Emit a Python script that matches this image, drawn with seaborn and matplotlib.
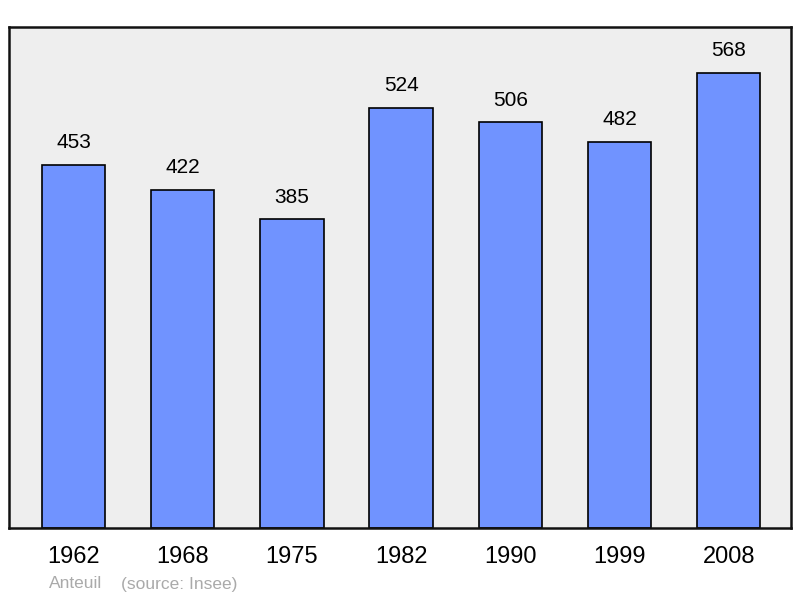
import matplotlib
matplotlib.use("Agg")
import matplotlib.pyplot as plt
import seaborn as sns
import pandas as pd


# ==========================================
# DATA
# ==========================================

years = ["1962", "1968", "1975", "1982", "1990", "1999", "2008"]
population = [453, 422, 385, 524, 506, 482, 568]

df = pd.DataFrame({"year": years, "population": population})


# ==========================================
# STYLE
# ==========================================

sns.set_style("white")
plt.rcParams["font.family"] = ["Liberation Sans", "DejaVu Sans"]
plt.rcParams["text.color"] = "black"
plt.rcParams["xtick.color"] = "black"


# ==========================================
# PLOT
# ==========================================

fig = plt.figure(figsize=(8, 5.98), dpi=100)
ax = fig.add_axes([9 / 800, 70 / 598, 782 / 800, 501 / 598])
ax.set_facecolor("#eeeeee")

sns.barplot(
    data=df,
    x="year",
    y="population",
    color="#7093ff",
    saturation=1,
    width=0.58,
    edgecolor="black",
    linewidth=1.2,
    ax=ax
)

ax.bar_label(ax.containers[0], padding=9, fontsize=15, color="black")

ax.set_xlim(-0.59, 6.57)
ax.set_ylim(0, 625)
ax.set_yticks([])
ax.set_xlabel("")
ax.set_ylabel("")
ax.tick_params(axis="x", length=0, pad=13, labelsize=17, labelcolor="black")

for spine in ax.spines.values():
    spine.set_visible(True)
    spine.set_linewidth(1.8)
    spine.set_color("#111111")

fig.text(49 / 800, 1 - 584 / 598, "Anteuil", color="#aaaaaa",
         fontsize=12.5, va="center", ha="left")
fig.text(121 / 800, 1 - 584 / 598, "(source: Insee)", color="#aaaaaa",
         fontsize=12.5, va="center", ha="left")

fig.savefig("out.png", dpi=100)
plt.close(fig)
